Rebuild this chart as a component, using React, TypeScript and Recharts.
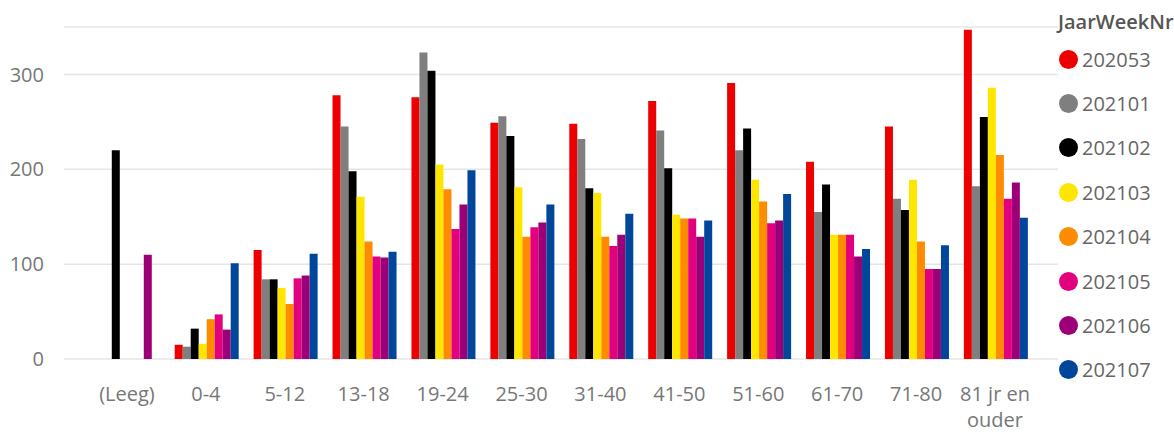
import { BarChart, Bar, XAxis, YAxis, CartesianGrid } from 'recharts';

const categories = ['(Leeg)', '0-4', '5-12', '13-18', '19-24', '25-30', '31-40', '41-50', '51-60', '61-70', '71-80', '81 jr en ouder'];

const weeks = ['202053', '202101', '202102', '202103', '202104', '202105', '202106', '202107'];
const colors = ['#EC0000', '#7F7F7F', '#000000', '#FFE600', '#FF8C00', '#E3007F', '#9C0078', '#00469A'];

const w202053 = [null, 15, 115, 278, 276, 249, 248, 272, 291, 208, 245, 347];
const w202101 = [null, 13, 84, 245, 323, 256, 232, 241, 220, 155, 169, 182];
const w202102 = [220, 32, 84, 198, 304, 235, 180, 201, 243, 184, 157, 255];
const w202103 = [null, 16, 75, 171, 205, 181, 175, 152, 189, 131, 189, 286];
const w202104 = [null, 42, 58, 124, 179, 129, 129, 148, 166, 131, 124, 215];
const w202105 = [null, 47, 85, 108, 137, 139, 119, 148, 143, 131, 95, 169];
const w202106 = [110, 31, 88, 107, 163, 144, 131, 129, 146, 108, 95, 186];
const w202107 = [null, 101, 111, 113, 199, 163, 153, 146, 174, 116, 120, 149];

const yTicks = [0, 100, 200, 300];

const seriesValues = [w202053, w202101, w202102, w202103, w202104, w202105, w202106, w202107];

const data = categories.map((cat, i) => {
  const row: Record<string, string | number | null> = { cat };
  weeks.forEach((wk, s) => {
    row[wk] = seriesValues[s][i];
  });
  return row;
});

const FONT = '"Open Sans", sans-serif';

function wrapLabel(label: string, maxChars = 9) {
  const words = label.split(' ');
  const lines: string[] = [];
  let cur = '';
  words.forEach((w) => {
    const next = cur ? cur + ' ' + w : w;
    if (next.length > maxChars && cur) {
      lines.push(cur);
      cur = w;
    } else {
      cur = next;
    }
  });
  if (cur) lines.push(cur);
  return lines;
}

const CategoryTick = (props: any) => {
  const { x, y, payload } = props;
  const lines = wrapLabel(String(payload.value));
  return (
    <text x={x} y={y} textAnchor="middle" fill="#777" fontSize={20} fontFamily={FONT}>
      {lines.map((l, i) => (
        <tspan key={i} x={x} dy={i === 0 ? 0 : 26}>{l}</tspan>
      ))}
    </text>
  );
};

// legend drawn next to the chart, Power BI style
const LegendBox = () => (
  <div style={{ position: 'absolute', left: 1058, top: 9, width: 116, fontFamily: FONT }}>
    <div style={{ fontSize: 20, fontWeight: 600, color: '#555', lineHeight: '26px', marginBottom: 2 }}>JaarWeekNr</div>
    {weeks.map((wk, i) => (
      <div key={wk} style={{ display: 'flex', alignItems: 'center', height: 44.4 }}>
        <span style={{ width: 19, height: 19, borderRadius: '50%', background: colors[i], display: 'inline-block', marginLeft: 1, marginRight: 4 }} />
        <span style={{ fontSize: 20, color: '#666' }}>{wk}</span>
      </div>
    ))}
  </div>
);

export default function App() {
  return (
    <div style={{ position: 'absolute', left: 0, top: 0, width: 1174, height: 432, background: '#fff' }}>
      <BarChart
        width={1174}
        height={432}
        data={data}
        margin={{ top: 27, right: 116, bottom: 0, left: 0 }}
        barCategoryGap="10.5%"
        barGap={0}
      >
        <CartesianGrid vertical={false} stroke="#e6e6e6" strokeWidth={1.5} />
        <XAxis
          dataKey="cat"
          axisLine={false}
          tickLine={false}
          tickSize={0}
          tickMargin={0}
          interval={0}
          padding={{ left: 23.5, right: 23.5 }}
          height={73}
          tick={(p: any) => <CategoryTick {...p} y={p.y + 42} />}
        />
        <YAxis
          width={64}
          domain={[0, 350]}
          ticks={yTicks}
          axisLine={false}
          tickLine={false}
          tickSize={0}
          tickMargin={20}
          tick={{ fill: '#777', fontSize: 20, fontFamily: FONT }}
        />
        {weeks.map((wk, i) => (
          <Bar key={wk} dataKey={wk} fill={colors[i]} isAnimationActive={false} />
        ))}
      </BarChart>
      <LegendBox />
    </div>
  );
}
